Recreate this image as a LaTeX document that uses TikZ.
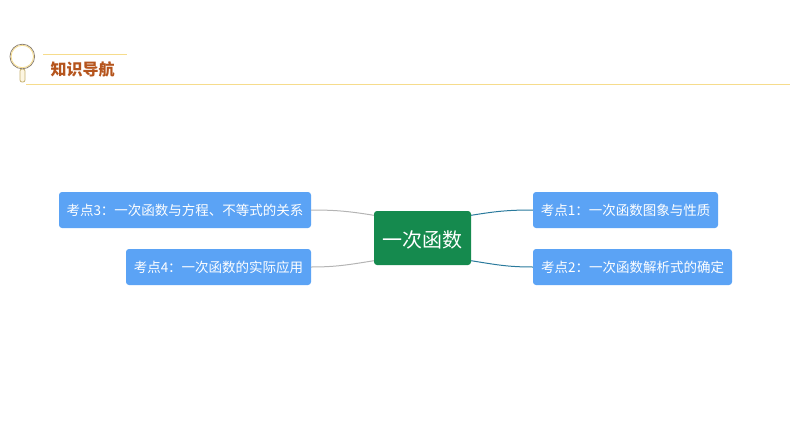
\documentclass[tikz,border=0pt]{standalone}
\usepackage{fontspec}
\setmainfont{Noto Sans CJK SC}
\definecolor{topicblue}{HTML}{5BA3F5}
\definecolor{maingreen}{HTML}{158A4E}
\definecolor{rulegold}{HTML}{F6DC8C}
\definecolor{titlebrown}{HTML}{B5541C}
\definecolor{linkteal}{HTML}{2A7A9C}
\definecolor{linkgray}{HTML}{B4B4B4}
\tikzset{
	topic/.style={fill=topicblue,text=white,rounded corners=3pt,minimum height=36pt,inner sep=0pt,text height=13pt,text depth=1.6pt,font=\fontsize{13.5}{15}\selectfont},
	mainbox/.style={fill=maingreen,text=white,rounded corners=3pt,minimum width=97pt,minimum height=54pt,inner sep=0pt,text height=19pt,text depth=1pt,font=\fontsize{20}{24}\selectfont},
	link/.style={line width=1pt},
}
\begin{document}
\begin{tikzpicture}[x=1pt,y=-1pt]
			\useasboundingbox (0,0) rectangle (794,447);

			% title bar
			\node[text=titlebrown,font=\fontsize{16}{18}\selectfont\bfseries,inner sep=0pt] (title) at (82.5,69.5) {知识导航};
			\coordinate (t1) at (43,54.5);
			\coordinate (t2) at (127,54.5);
			\coordinate (r1) at (26,84.5);
			\coordinate (r2) at (790,84.5);
			\draw[rulegold,line width=1.2pt] (t1) -- (t2);
			\draw[rulegold,line width=1.2pt] (r1) -- (r2);

			% magnifier
			\draw[fill=rulegold!25,draw=rulegold!80!black,line width=0.8pt,rounded corners=2pt] (20,69) rectangle (25,82);
			\draw[fill=white,draw=gray!80!brown,line width=0.8pt] (22.3,56.5) circle (12.3);
			\draw[rulegold,line width=0.8pt] (22.3,56.5) circle (11.2);

			\node[mainbox] (main) at (422.5,238) {一次函数};

			\node[topic,minimum width=185pt] (k1) at (625.5,210) {考点1：一次函数图象与性质};
			\node[topic,minimum width=199pt] (k2) at (632.5,267) {考点2：一次函数解析式的确定};
			\node[topic,minimum width=252pt] (k3) at (185,210) {考点3：一次函数与方程、不等式的关系};
			\node[topic,minimum width=185pt] (k4) at (218.5,267) {考点4：一次函数的实际应用};

			\draw[link,linkteal] (main.25) .. controls +(25,-4) and +(-25,0) .. (k1.west);
			\draw[link,linkteal] (main.-25) .. controls +(25,4) and +(-25,0) .. (k2.west);
			\draw[link,linkgray] (main.155) .. controls +(-25,-4) and +(25,0) .. (k3.east);
			\draw[link,linkgray] (main.-155) .. controls +(-25,4) and +(25,0) .. (k4.east);
		\end{tikzpicture}
\end{document}
